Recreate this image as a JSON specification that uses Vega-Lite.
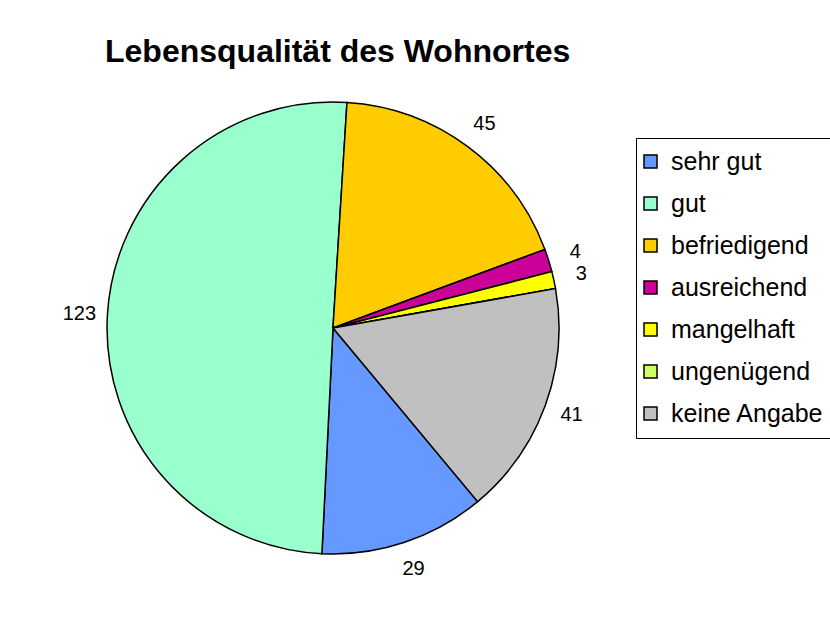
{
  "$schema": "https://vega.github.io/schema/vega-lite/v6.json",
  "width": 626,
  "height": 636,
  "autosize": {"type": "none"},
  "padding": {"left": 20, "top": 10, "right": 184, "bottom": 0},
  "background": "white",
  "config": {"view": {"stroke": null}, "font": "Liberation Sans", "legend": {"strokeWidth": 1}},
  "title": {
    "text": "Lebensqualität des Wohnortes",
    "font": "Liberation Sans",
    "fontSize": 32,
    "fontWeight": "bold",
    "color": "black",
    "anchor": "start",
    "frame": "group",
    "baseline": "alphabetic",
    "dx": 85,
    "offset": -84
  },
  "data": {
    "values": [
      {"idx": 1, "kategorie": "sehr gut", "anzahl": 29},
      {"idx": 2, "kategorie": "gut", "anzahl": 123},
      {"idx": 3, "kategorie": "befriedigend", "anzahl": 45},
      {"idx": 4, "kategorie": "ausreichend", "anzahl": 4},
      {"idx": 5, "kategorie": "mangelhaft", "anzahl": 3},
      {"idx": 6, "kategorie": "ungenügend", "anzahl": 0},
      {"idx": 7, "kategorie": "keine Angabe", "anzahl": 41}
    ]
  },
  "encoding": {
    "theta": {
      "field": "anzahl",
      "type": "quantitative",
      "stack": true,
      "scale": {"range": [2.447, 8.730]}
    },
    "order": {"field": "idx", "type": "quantitative"}
  },
  "layer": [
    {
      "mark": {"type": "arc", "outerRadius": 226, "stroke": "black", "strokeWidth": 1.5},
      "encoding": {
        "color": {
          "field": "kategorie",
          "type": "nominal",
          "scale": {
            "domain": ["sehr gut", "gut", "befriedigend", "ausreichend", "mangelhaft", "ungenügend", "keine Angabe"],
            "range": ["#6699FF", "#99FFCC", "#FFCC00", "#CC0099", "#FFFF00", "#CCFF66", "#C0C0C0"]
          },
          "legend": {
            "title": null,
            "orient": "none",
            "legendX": 616,
            "legendY": 128,
            "fillColor": "white",
            "strokeColor": "black",
            "padding": 11,
            "rowPadding": 16,
            "symbolType": "square",
            "symbolSize": 169,
            "symbolStrokeColor": "black",
            "symbolOffset": -9,
            "labelFont": "Liberation Sans",
            "labelFontSize": 25,
            "labelColor": "black",
            "labelOffset": 8,
            "labelLimit": 300
          }
        }
      }
    },
    {
      "transform": [{"filter": "datum.anzahl > 0"}],
      "mark": {"type": "text", "radius": 254, "fontSize": 20, "font": "Liberation Sans", "color": "black", "align": "center", "baseline": "middle"},
      "encoding": {
        "text": {"field": "anzahl", "type": "quantitative"}
      }
    }
  ]
}
